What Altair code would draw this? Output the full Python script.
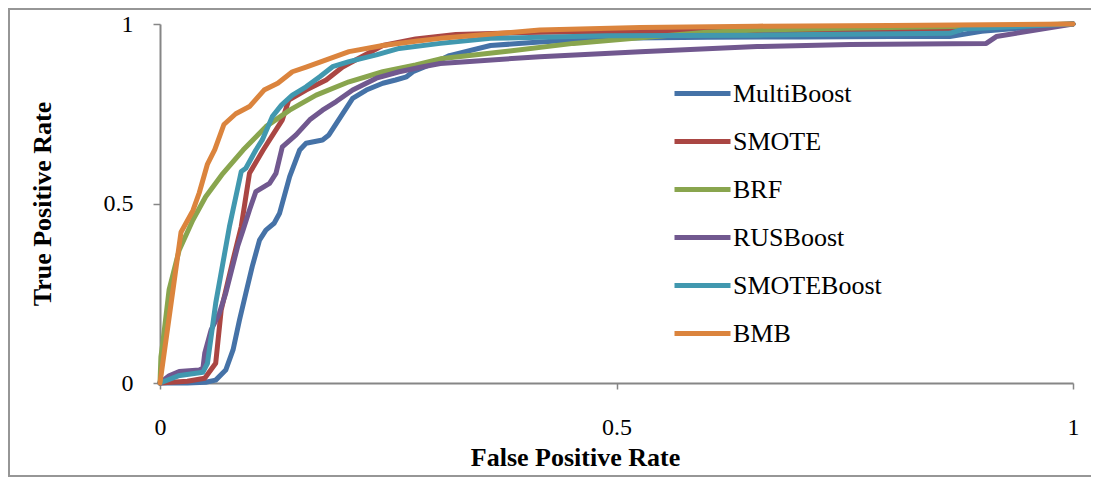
import altair as alt
import pandas as pd

series_names = ["MultiBoost", "SMOTE", "BRF", "RUSBoost", "SMOTEBoost", "BMB"]
series_colors = ["#4572A7", "#AA4643", "#89A54E", "#71588F", "#4198AF", "#DB843D"]

multiboost_fpr = [0, 0.03, 0.05, 0.061, 0.072, 0.08, 0.087, 0.094, 0.101, 0.109, 0.116, 0.125, 0.131, 0.142, 0.153, 0.16, 0.178, 0.185, 0.198, 0.211, 0.226, 0.244, 0.258, 0.27, 0.277, 0.299, 0.317, 0.362, 0.416, 0.489, 0.6, 0.7, 0.8, 0.865, 0.9, 1.0]
multiboost_tpr = [0, 0.0, 0.002, 0.008, 0.036, 0.092, 0.175, 0.25, 0.324, 0.398, 0.426, 0.445, 0.473, 0.575, 0.649, 0.668, 0.677, 0.691, 0.742, 0.793, 0.816, 0.835, 0.844, 0.853, 0.867, 0.89, 0.912, 0.94, 0.95, 0.96, 0.963, 0.964, 0.965, 0.965, 0.98, 1.0]

smote_fpr = [0, 0.03, 0.049, 0.061, 0.067, 0.08, 0.089, 0.098, 0.113, 0.12, 0.134, 0.141, 0.16, 0.182, 0.2, 0.207, 0.244, 0.28, 0.324, 0.4, 0.49, 0.55, 0.65, 0.76, 0.87, 0.88, 1.0]
smote_tpr = [0, 0.005, 0.013, 0.055, 0.203, 0.343, 0.436, 0.584, 0.649, 0.677, 0.733, 0.788, 0.816, 0.844, 0.88, 0.89, 0.94, 0.958, 0.971, 0.976, 0.979, 0.979, 0.981, 0.983, 0.983, 0.99, 1.0]

brf_fpr = [0, 0.001, 0.003, 0.01, 0.021, 0.036, 0.05, 0.069, 0.091, 0.116, 0.142, 0.171, 0.207, 0.244, 0.28, 0.307, 0.383, 0.453, 0.526, 0.599, 0.654, 0.75, 0.85, 1.0]
brf_tpr = [0, 0.073, 0.11, 0.26, 0.37, 0.454, 0.519, 0.584, 0.649, 0.714, 0.76, 0.802, 0.839, 0.867, 0.886, 0.903, 0.925, 0.946, 0.962, 0.977, 0.983, 0.988, 0.992, 1.0]

rusboost_fpr = [0, 0.01, 0.021, 0.043, 0.047, 0.049, 0.056, 0.065, 0.072, 0.085, 0.091, 0.098, 0.105, 0.12, 0.127, 0.134, 0.149, 0.164, 0.178, 0.193, 0.211, 0.237, 0.262, 0.288, 0.307, 0.416, 0.526, 0.654, 0.756, 0.905, 0.916, 1.0]
rusboost_tpr = [0, 0.02, 0.032, 0.036, 0.041, 0.083, 0.148, 0.194, 0.25, 0.38, 0.426, 0.482, 0.533, 0.556, 0.584, 0.658, 0.691, 0.733, 0.76, 0.784, 0.816, 0.849, 0.867, 0.881, 0.89, 0.909, 0.923, 0.937, 0.943, 0.946, 0.965, 1.0]

smoteboost_fpr = [0, 0.02, 0.047, 0.052, 0.061, 0.076, 0.089, 0.094, 0.105, 0.112, 0.123, 0.133, 0.145, 0.16, 0.175, 0.189, 0.207, 0.237, 0.262, 0.307, 0.362, 0.489, 0.654, 0.865, 0.88, 1.0]
smoteboost_tpr = [0, 0.02, 0.03, 0.055, 0.222, 0.435, 0.589, 0.598, 0.649, 0.677, 0.742, 0.774, 0.802, 0.825, 0.853, 0.881, 0.895, 0.914, 0.932, 0.946, 0.96, 0.967, 0.969, 0.974, 0.986, 1.0]

bmb_fpr = [0, 0.023, 0.036, 0.043, 0.052, 0.06, 0.07, 0.083, 0.098, 0.114, 0.129, 0.145, 0.16, 0.182, 0.207, 0.244, 0.28, 0.307, 0.416, 0.526, 0.654, 0.8, 1.0]
bmb_tpr = [0, 0.42, 0.48, 0.53, 0.61, 0.65, 0.72, 0.75, 0.77, 0.816, 0.835, 0.867, 0.88, 0.90, 0.923, 0.94, 0.952, 0.96, 0.983, 0.99, 0.994, 0.996, 1.0]

tick_values = [0, 0.5, 1]

all_fpr = [multiboost_fpr, smote_fpr, brf_fpr, rusboost_fpr, smoteboost_fpr, bmb_fpr]
all_tpr = [multiboost_tpr, smote_tpr, brf_tpr, rusboost_tpr, smoteboost_tpr, bmb_tpr]

rows = []
for name, xs, ys in zip(series_names, all_fpr, all_tpr):
    for i, (xv, yv) in enumerate(zip(xs, ys)):
        rows.append({"series": name, "fpr": xv, "tpr": yv, "idx": i})
df = pd.DataFrame(rows)

FONT = "Liberation Serif"
AXIS_GRAY = "#868686"

lines = alt.Chart(df).mark_line(strokeWidth=5, strokeCap="round", strokeJoin="round").encode(
    x=alt.X("fpr:Q", scale=alt.Scale(domain=[0, 1], nice=False),
            axis=alt.Axis(values=tick_values, format="~g", title="False Positive Rate",
                          titleX=415, titleY=74, titleAlign="center", titleBaseline="middle",
                          labelPadding=26, tickSize=6, labelFlush=False)),
    y=alt.Y("tpr:Q", scale=alt.Scale(domain=[0, 1], nice=False),
            axis=alt.Axis(values=tick_values, format="~g", title="True Positive Rate",
                          titleX=-118, titleY=179.5, titleAngle=270, titleAlign="center",
                          titleBaseline="middle", labelPadding=20, tickSize=7)),
    color=alt.Color("series:N", sort=series_names,
                    scale=alt.Scale(domain=series_names, range=series_colors),
                    legend=alt.Legend(title=None, orient="none", legendX=512, legendY=39,
                                      symbolType="stroke", symbolSize=3136,
                                      symbolStrokeWidth=5, labelFontSize=26,
                                      labelFont=FONT, labelColor="black", labelOffset=0,
                                      rowPadding=4, padding=0)),
    order=alt.Order("idx:Q"),
)

border = alt.Chart(alt.Data(values=[{}])).mark_rect(
    fill="transparent", stroke="#969696", strokeWidth=2
).encode(
    x=alt.value(-151), x2=alt.value(960), y=alt.value(-15), y2=alt.value(452)
)

chart = alt.layer(border, lines).properties(
    width=913, height=359,
    autosize=alt.AutoSizeParams(type="none"),
    padding={"left": 152, "top": 16, "right": 18, "bottom": 96},
).configure_view(strokeWidth=0).configure_axis(
    grid=False, domainColor=AXIS_GRAY, domainWidth=2, tickColor=AXIS_GRAY, tickWidth=1.5,
    labelFont=FONT, labelFontSize=24, labelColor="black",
    titleFont=FONT, titleFontSize=26, titleFontWeight="bold", titleColor="black",
)

chart.save("out.html", embed_options={"renderer": "svg", "actions": False})
